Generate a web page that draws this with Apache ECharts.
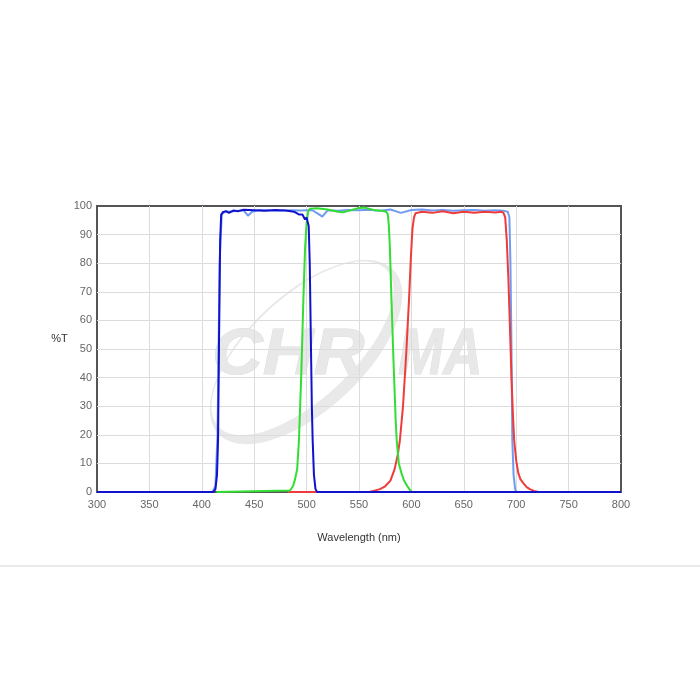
<!DOCTYPE html>
<html>
<head>
<meta charset="utf-8">
<script src="https://cdn.jsdelivr.net/npm/echarts@6/dist/echarts.min.js"></script>
<style>html,body{margin:0;padding:0;background:#fff;}#c{width:700px;height:700px;}</style>
</head>
<body>
<div id="c"></div>
<script>
// Wide bandpass (light blue)
var wideNm = [300, 410, 413, 415, 417, 419, 422, 430, 440, 444, 448, 455, 465, 475, 485, 495, 505, 510, 515, 520, 530, 540, 550, 560, 570, 580, 590, 600, 610, 620, 630, 640, 650, 660, 670, 680, 688, 692, 693.5, 694.5, 695.5, 696.3, 697.5, 699, 700, 702, 800];
var wideT  = [0, 0, 2, 20, 80, 97, 98, 98.2, 98.5, 96.6, 98, 98.6, 98.4, 98.3, 98.5, 98.4, 98.6, 97.5, 96.3, 98.5, 98.3, 98.6, 98.5, 98.7, 98.3, 98.8, 97.6, 98.6, 98.8, 98.4, 98.6, 98.3, 98.5, 98.6, 98.3, 98.5, 98.3, 98, 96, 80, 50, 18, 6, 1, 0, 0, 0];
// Red channel
var redNm = [482, 560, 563, 570, 575, 580, 584, 587, 589, 592, 595, 597.7, 599.5, 601, 602.5, 604, 610, 620, 630, 640, 650, 660, 670, 680, 686, 688, 689.5, 691, 692.5, 694, 695.5, 697, 698.1, 700, 702, 704, 707, 710, 713, 717, 721, 800];
var redT  = [0, 0, 0.3, 1, 2, 4, 8, 13, 18, 30, 48, 67, 82, 92, 96, 97.5, 98, 97.6, 98.2, 97.5, 98, 97.6, 98, 97.7, 98, 97.5, 96, 88, 75, 58, 40, 26, 18, 11, 6.6, 4.5, 3, 1.7, 1, 0.4, 0, 0];
// Green channel
var greenNm = [414, 484, 487, 489, 491, 492.7, 495, 496.9, 498.5, 500, 501.5, 503, 510, 520, 530, 535, 540, 550, 555, 560, 565, 570, 576, 577.5, 578.5, 579.5, 581, 583, 585, 586, 588, 590.5, 593, 595.5, 598, 600.5];
var greenT  = [0, 0.5, 2, 4.5, 8, 18, 42, 67, 85, 94, 98, 99, 99.2, 98.8, 98, 97.8, 98.3, 99.3, 99.5, 99, 98.5, 98.4, 98, 97, 93, 85, 67, 45, 25, 18, 10, 6.6, 4, 2.4, 1, 0];
// Blue channel
var blueNm = [300, 411, 413, 414.5, 415.5, 416.5, 417.5, 418.5, 420, 423, 426, 430, 435, 440, 450, 460, 470, 480, 488, 493, 496, 498.5, 500, 501, 502, 503, 504, 505, 505.8, 507, 508.5, 510, 800];
var blueT  = [0, 0, 1, 6, 18, 55, 88, 97, 97.8, 98.2, 97.6, 98.4, 98.2, 98.7, 98.5, 98.3, 98.6, 98.4, 98, 97, 97, 95.3, 96, 96.2, 93, 80, 55, 30, 18, 6, 1, 0, 0];

var xTicks = [300, 350, 400, 450, 500, 550, 600, 650, 700, 750, 800];
var yTicks = [0, 10, 20, 30, 40, 50, 60, 70, 80, 90, 100];

function zip(a, b) { return a.map(function (v, i) { return [v, b[i]]; }); }

// decorative watermark swoosh (crescent ring) outline in local pixels
function crescentPoints(cx, cy, ang) {
  var pts = [], n = 90, i, t;
  var ca = Math.cos(ang), sa = Math.sin(ang);
  function push(px, py) { pts.push([cx + px * ca + py * sa, cy - px * sa + py * ca]); }
  for (i = 0; i <= n; i++) { t = 2 * Math.PI * i / n; push(120 * Math.cos(t), 58 * Math.sin(t)); }
  for (i = n; i >= 0; i--) { t = 2 * Math.PI * i / n; push(115 * Math.cos(t), -5 + 51 * Math.sin(t)); }
  return pts;
}

var chart = echarts.init(document.getElementById('c'));
var labelFont = { color: '#666', fontSize: 11, fontFamily: '"Liberation Sans", Arial, sans-serif' };
var wmFont = 'italic 900 64px "Liberation Sans", Arial';

function line(name, color, nm, t) {
  return { name: name, type: 'line', data: zip(nm, t), showSymbol: false, symbol: 'none',
           lineStyle: { color: color, width: 2 }, itemStyle: { color: color }, smooth: false, z: 3 };
}

chart.setOption({
  animation: false,
  backgroundColor: '#fff',
  grid: { left: 97, right: 79, top: 206, bottom: 208, show: true, borderColor: '#555', borderWidth: 2, backgroundColor: 'transparent' },
  graphic: [
    { type: 'polygon', z: -1, silent: true,
      shape: { points: crescentPoints(306, 352, 43 * Math.PI / 180) }, style: { fill: '#e9e9e9' } },
    { type: 'text', x: 212, y: 356, scaleX: 1.1, z: -1, silent: true,
      style: { text: 'CHR', font: wmFont, fill: '#e8e8e8', stroke: '#dddddd', lineWidth: 1, textAlign: 'left', textVerticalAlign: 'middle' } },
    { type: 'text', x: 398, y: 356, scaleX: 0.85, z: -1, silent: true,
      style: { text: 'MA', font: wmFont, fill: '#e8e8e8', stroke: '#dddddd', lineWidth: 1, textAlign: 'left', textVerticalAlign: 'middle' } },
    { type: 'line', z: 1, silent: true, shape: { x1: 0, y1: 566, x2: 700, y2: 566 }, style: { stroke: '#ebebeb', lineWidth: 2 } }
  ],
  xAxis: {
    type: 'value', min: xTicks[0], max: xTicks[xTicks.length - 1], interval: 50,
    name: 'Wavelength (nm)', nameLocation: 'middle', nameGap: 40,
    nameTextStyle: { color: '#333', fontSize: 11, fontFamily: '"Liberation Sans", Arial, sans-serif' },
    axisLine: { show: false }, axisTick: { show: false },
    axisLabel: Object.assign({ margin: 7 }, labelFont),
    splitLine: { show: true, showMinLine: false, showMaxLine: false, lineStyle: { color: '#dcdcdc', width: 1 } }
  },
  yAxis: {
    type: 'value', min: yTicks[0], max: yTicks[yTicks.length - 1], interval: 10,
    name: '%T', nameLocation: 'middle', nameGap: 27, nameRotate: 0,
    nameTextStyle: { color: '#333', fontSize: 11, fontFamily: '"Liberation Sans", Arial, sans-serif', verticalAlign: 'bottom', lineHeight: 20 },
    axisLine: { show: false }, axisTick: { show: false },
    axisLabel: Object.assign({ margin: 5 }, labelFont),
    splitLine: { show: true, showMinLine: false, showMaxLine: false, lineStyle: { color: '#dcdcdc', width: 1 } }
  },
  series: [
    line('Wide', '#6f9cf0', wideNm, wideT),
    line('Red', '#ee3b3b', redNm, redT),
    line('Green', '#33dd33', greenNm, greenT),
    line('Blue', '#1212cc', blueNm, blueT)
  ]
});
</script>
</body>
</html>
